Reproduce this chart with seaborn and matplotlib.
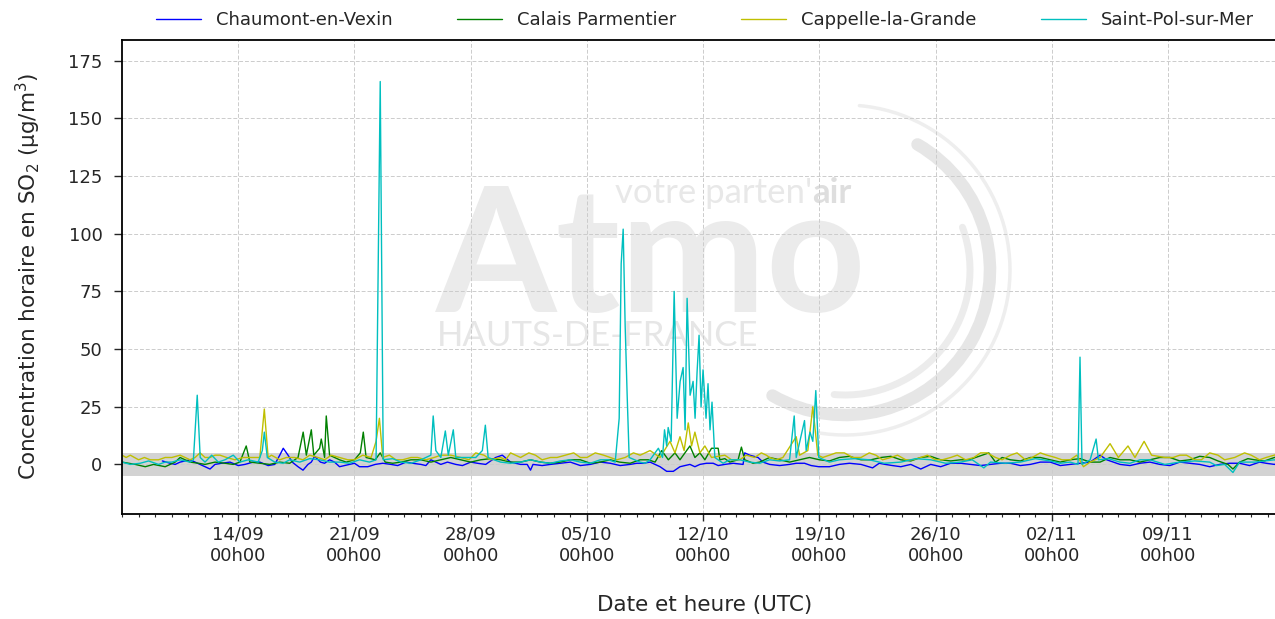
import numpy as np
import pandas as pd
import seaborn as sns
import matplotlib.pyplot as plt
import matplotlib.dates as mdates
from matplotlib.patches import Arc

START = pd.Timestamp('2023-09-07 00:00')

stations = ['Chaumont-en-Vexin', 'Calais Parmentier', 'Cappelle-la-Grande', 'Saint-Pol-sur-Mer']
colors = ['b', 'g', 'y', 'c']
tick_dates = ['2023-09-14', '2023-09-21', '2023-09-28', '2023-10-05', '2023-10-12',
              '2023-10-19', '2023-10-26', '2023-11-02', '2023-11-09']

# days since 07/09 00h00 (UTC), hourly SO2 in µg/m3
# (peaks + main shape)
chaumont_days = [2.43, 2.9, 3.5, 4.1, 4.7, 5.3, 5.6, 6.5, 7.4, 8.3, 9.2, 9.5, 9.71, 10.0, 10.25,
                 10.6, 10.9, 11.2, 11.4, 11.6, 11.95, 12.5, 13.1, 13.7, 14.3, 15.25, 16.2, 17.1,
                 18.0, 18.6, 19.2, 20.1, 21.0, 21.9, 22.5, 22.9, 23.4, 24.0, 24.4, 24.6, 24.75,
                 25.8, 27.0, 28.2, 29.4, 30.6, 31.4, 31.8, 32.4, 32.8, 33.2, 33.6, 34.2, 34.8,
                 35.6, 36.3, 37.4, 37.5, 37.8, 38.3, 38.6, 39.0, 40.2, 41.1, 41.96, 43.2, 44.5,
                 45.2, 45.96, 46.9, 47.5, 48.1, 48.7, 49.9, 51.1, 52.3, 53.5, 54.7, 55.9, 57.1,
                 58.3, 58.9, 59.3, 60.1, 61.3, 62.5, 63.7, 64.9, 66.1, 67.3, 68.5, 69.4, 70.2]
chaumont_vals = [1.5, 0.5, 1, 2, 0, -2, 0, 1, 0, 1, 0, 4, 7, 4, 1,
                 -1, -2.5, 0, 1, 3.5, 1, 2, -1, 0, -1, 0, 0, 1,
                 0, 2, 0, 0, 1, 0, 3, 4, 1, 0, 0, -2.5, 0,
                 0, 1, 0, 0.5, 0, 0.5, 1, -1, -3, -3, -1, 0, 0,
                 0.5, 0, 0, 5, 4, 3, 1, 0, 0, 0.5, -1, 0, 0,
                 -1.5, 0, -1, 0, -2, 0, 0.5, 0, 0, 0.5, 0, 1, 0,
                 1, 4, 2, 0, 0.5, 0, 1, 0, 0, 0.5, 1, 0, 0.5]
# (baseline wiggles in between)
chaumont_days2 = [3.2, 5.0, 6.0, 7.0, 7.9, 8.8, 12.2, 12.8, 13.4, 14.0, 14.8, 15.7, 16.6, 17.5,
                  18.3, 19.6, 20.5, 21.4, 23.7, 25.3, 26.4, 27.6, 28.8, 30.0, 31.0, 34.5, 35.2,
                  35.9, 36.8, 39.6, 40.6, 41.5, 42.6, 43.8, 45.6, 46.4, 49.3, 50.5, 51.7, 52.9,
                  54.1, 55.3, 56.5, 57.7, 59.7, 60.7, 61.9, 63.1, 64.3, 65.5, 66.7, 67.9, 68.9,
                  69.8]
chaumont_vals2 = [0, -1, 0.5, -0.5, 1, -0.5, 0.5, 1, -0.5, 0.5, -1, 0.5, -0.5, 0.5,
                  -0.5, 1, -0.5, 0.5, 0.5, -0.5, 0.5, -0.5, 1, -0.5, 0.5, -1, 0.5,
                  -0.5, 0.5, -0.5, 0.5, -0.5, -1, 0.5, 0.5, -0.5, -1, 0.5, -0.5, 0.5,
                  -0.5, 1, -0.5, 0.5, 1, -0.5, 1, -0.5, 0.5, -1, 0.5, -0.5, 0.5,
                  1]

calais_days = [0.0, 0.8, 1.4, 2.6, 3.2, 3.5, 4.1, 5.0, 6.2, 7.1, 7.48, 7.7, 8.9, 10.1, 10.6,
               10.91, 11.1, 11.4, 11.55, 11.9, 12.0, 12.2, 12.3, 12.5, 13.1, 14.0, 14.35, 14.53,
               14.7, 15.25, 15.55, 15.85, 16.8, 18.0, 19.2, 20.4, 21.6, 22.8, 24.0, 25.2, 26.4,
               27.6, 28.8, 29.96, 31.2, 32.1, 32.5, 32.9, 33.3, 33.6, 34.2, 34.5, 34.8, 35.1,
               35.5, 35.9, 36.0, 36.6, 37.1, 37.3, 37.5, 38.4, 39.6, 40.8, 42.0, 43.2, 44.5,
               45.7, 46.9, 48.1, 49.3, 50.5, 51.4, 52.2, 52.6, 53.5, 54.7, 55.9, 57.1, 58.3,
               59.5, 60.7, 61.9, 63.1, 64.3, 65.5, 66.6, 66.9, 67.3, 68.2, 69.4, 70.2]
calais_vals = [1, 0, -1, -1, 1, 3, 1, 0, 0.5, 1, 8, 1, 0, 0.5, 3,
               14, 4, 15, 4, 7, 11, 3, 21, 4, 2, 2, 5, 14,
               3, 2, 5, 1, 1, 2, 2, 2, 2, 2, 1, 1, 1,
               2, 1, 1, 2, 1, 6, 2, 5, 2, 8, 3, 5, 2,
               7, 7, 2, 1, 2, 7.5, 2, 1, 2, 2, 2, 3, 2,
               3, 2, 3, 2, 2, 3, 5, 1, 2, 3, 2, 2, 1,
               3, 2, 2, 3, 2, 3, 0, -2, 1, 2, 3, 2]
calais_days2 = [0.4, 1.9, 4.6, 5.6, 6.7, 8.3, 9.5, 13.5, 16.3, 17.4, 18.6, 19.8, 21.0, 22.2,
                23.4, 24.6, 25.8, 27.0, 28.2, 29.4, 30.6, 31.7, 36.3, 38.0, 39.0, 40.2, 41.4,
                42.6, 43.8, 45.1, 46.3, 47.5, 48.7, 49.9, 51.0, 53.0, 54.1, 55.3, 56.5, 57.7,
                58.9, 60.1, 61.3, 62.5, 63.7, 64.9, 66.0, 67.8, 68.8, 69.8]
calais_vals2 = [0.5, 0, 0.5, 1, 0, 0.5, 1, 1, 0.5, 2, 1, 3, 1, 2.5,
                1, 2, 0.5, 2, 0.5, 2, 0.5, 2, 2.5, 0.5, 3, 1, 3,
                1.5, 3.5, 2, 3.5, 1.5, 3.5, 1.5, 2, 3, 1.5, 3, 1, 2.5,
                1, 2, 1, 3, 1.5, 3.5, 1.5, 2.5, 1.5, 3.5]

cappelle_days = [0.0, 0.5, 1.0, 1.7, 2.6, 3.5, 4.1, 4.7, 5.3, 5.9, 6.8, 7.7, 8.3, 8.57, 8.8,
                 9.5, 10.4, 11.3, 12.2, 13.1, 14.0, 15.0, 15.3, 15.5, 15.7, 16.5, 17.4, 18.3,
                 19.2, 20.4, 21.3, 22.2, 22.8, 23.4, 24.0, 24.9, 25.8, 26.7, 27.6, 28.5, 29.4,
                 30.3, 31.2, 31.8, 32.4, 33.0, 33.3, 33.6, 33.85, 34.1, 34.3, 34.5, 34.8, 35.1,
                 35.5, 36.3, 37.2, 38.1, 38.5, 39.0, 39.8, 40.6, 40.8, 41.3, 41.6, 41.9, 42.6,
                 43.5, 44.5, 45.4, 46.3, 47.2, 48.1, 48.97, 49.9, 50.8, 51.7, 52.6, 53.5, 54.4,
                 55.3, 56.2, 57.1, 57.9, 58.3, 58.9, 59.5, 60.0, 60.58, 61.0, 61.55, 62.0, 62.8,
                 63.7, 64.6, 65.5, 66.4, 67.6, 68.5, 69.4, 70.2]
cappelle_vals = [4, 4, 2, 2, 3, 4, 2, 5, 3, 4, 2, 3, 3, 24, 3,
                 2, 3, 4, 2, 3, 2, 3, 10, 20, 3, 2, 3, 2,
                 4, 3, 5, 2, 3, 5, 3, 4, 3, 4, 3, 5, 3,
                 3, 4, 6, 3, 10, 5, 12, 6, 18, 8, 14, 5, 8,
                 3, 4, 2, 3, 5, 3, 3, 12, 4, 6, 25, 4, 4,
                 5, 3, 4, 3, 2, 3, 2, 3, 2, 5, 3, 4, 2,
                 5, 3, 2, -1, 1, 3, 9, 3, 8, 3, 10, 4, 3,
                 4, 2, 5, 2, 5, 2, 4, 3]
cappelle_days2 = [0.25, 1.35, 2.2, 3.0, 4.4, 5.0, 5.6, 6.3, 7.3, 9.0, 9.9, 10.9, 11.8, 12.6,
                  13.6, 14.5, 16.1, 16.9, 17.8, 18.8, 19.8, 20.9, 21.8, 23.1, 23.7, 24.5, 25.3,
                  26.2, 27.2, 28.0, 29.0, 29.8, 30.8, 36.7, 37.6, 38.8, 39.4, 42.2, 43.0, 44.0,
                  45.0, 45.8, 46.7, 47.6, 48.5, 49.4, 50.3, 51.3, 52.1, 53.0, 53.9, 54.8, 55.7,
                  56.6, 57.5, 63.3, 64.1, 65.0, 66.0, 67.0, 68.0, 68.9, 69.8]
cappelle_vals2 = [3, 3, 2, 3, 3, 3, 4, 3, 3, 4, 3, 2, 3, 4,
                  2, 4, 4, 2, 3, 3, 4, 2, 4, 2, 4, 5, 2,
                  3, 5, 3, 4, 2, 5, 2, 4, 4, 2, 3, 5, 3,
                  5, 2, 4, 2, 4, 2, 4, 3, 5, 2, 5, 3, 4,
                  2, 4, 3, 4, 2, 4, 3, 4, 3, 5]

saintpol_days = [0.0, 1.1, 2.6, 3.5, 4.1, 4.3, 4.53, 4.71, 5.0, 5.4, 5.8, 6.7, 7.1, 7.6, 8.2,
                 8.45, 8.57, 8.75, 9.2, 10.1, 10.7, 11.9, 13.1, 14.3, 15.3, 15.55, 15.73, 16.8,
                 18.0, 18.6, 18.74, 18.9, 19.2, 19.47, 19.65, 19.95, 20.1, 20.7, 21.3, 21.7,
                 21.88, 22.05, 22.8, 24.0, 25.2, 26.4, 27.6, 28.8, 29.7, 29.94, 30.06, 30.18,
                 30.3, 30.42, 30.54, 31.2, 31.8, 32.3, 32.55, 32.67, 32.8, 32.89, 33.07, 33.25,
                 33.43, 33.61, 33.79, 33.91, 34.03, 34.21, 34.39, 34.51, 34.63, 34.75, 34.87,
                 34.99, 35.17, 35.29, 35.41, 35.53, 35.7, 36.6, 37.8, 39.0, 40.2, 40.48, 40.6,
                 41.1, 41.2, 41.43, 41.6, 41.78, 41.96, 43.2, 45.0, 46.9, 48.7, 50.5, 51.9,
                 52.3, 54.1, 55.9, 57.1, 57.57, 57.69, 57.81, 58.3, 58.66, 58.8, 60.1, 61.9,
                 63.7, 65.5, 66.4, 66.9, 67.3, 69.4, 70.2]
saintpol_vals = [1, 0.5, 1, 2, 1, 2, 30, 3, 1, 4, 1, 4, 1, 2, 1,
                 6, 14, 3, 1, 2, 1, 2, 1, 2, 2, 166, 2, 1,
                 2, 4, 21, 6, 3, 14.5, 4, 15, 3, 3, 3, 6,
                 17, 3, 1, 1, 1, 1.5, 1, 2, 1, 20, 87, 102,
                 60, 30, 3, 1, 2, 7, 3, 15, 8, 16, 10, 75,
                 20, 36, 42, 15, 72, 30, 36, 20, 40, 56, 25,
                 41, 20, 35, 15, 27, 3, 2, 1, 2, 2, 21, 3,
                 19, 6, 14, 10, 32, 3, 2, 2, 1, 2, 1, -1.5,
                 1, 1, 1.5, 1, 0, 46.5, 0, 2, 11, 2, 1, 2,
                 1, 1, 0, -3.5, 1, 2, 1]
saintpol_days2 = [0.5, 1.6, 2.2, 3.0, 6.2, 9.7, 11.3, 12.5, 13.7, 14.9, 16.3, 17.4, 22.4, 23.4,
                  24.6, 25.8, 27.0, 28.2, 29.3, 31.5, 36.2, 37.2, 38.4, 39.6, 42.6, 44.1, 45.9,
                  47.8, 49.6, 51.2, 53.2, 55.0, 56.5, 59.4, 60.7, 61.3, 62.8, 64.6, 65.9, 68.2,
                  69.8]
saintpol_vals2 = [0, 1.5, 0, 1, 2, 0.5, 2.5, 1, 0.5, 1, 2.5, 0.5, 2, 0.5,
                  2, 0.5, 2, 0.5, 2, 0.5, 0.5, 2, 0.5, 1.5, 1, 2.5, 0.5,
                  2.5, 0.5, 2, 0.5, 2.5, 0.5, 2.5, 0.5, 2, 0, 1.5, -0.5, 1,
                  0.5]

series = {
    'Chaumont-en-Vexin': (chaumont_days + chaumont_days2, chaumont_vals + chaumont_vals2),
    'Calais Parmentier': (calais_days + calais_days2, calais_vals + calais_vals2),
    'Cappelle-la-Grande': (cappelle_days + cappelle_days2, cappelle_vals + cappelle_vals2),
    'Saint-Pol-sur-Mer': (saintpol_days + saintpol_days2, saintpol_vals + saintpol_vals2),
}

frames = []
for name in stations:
    d, v = series[name]
    frames.append(pd.DataFrame({'date': START + pd.to_timedelta(d, unit='D'),
                                'so2': v, 'station': name}))
df = pd.concat(frames, ignore_index=True).sort_values(['station', 'date'])

sns.set_style('ticks')
plt.rcParams['font.family'] = ['DejaVu Sans']

fig = plt.figure(figsize=(12.75, 6.19), dpi=100)
fig.patch.set_facecolor('white')

# watermark (drawn behind the chart)
wm = fig.add_axes([0, 0, 1, 1], zorder=-1)
wm.set_xlim(0, 1275)
wm.set_ylim(619, 0)
wm.axis('off')
wm.text(436, 312, 'Atmo', fontsize=125, fontweight='bold', family='Lato',
        color='#ebebeb', ha='left', va='baseline')
wm.text(812, 203, "votre parten'", fontsize=25, family='Lato',
        color='#e8e8e8', ha='right', va='baseline')
wm.text(812, 203, 'air', fontsize=25, fontweight='bold', family='Lato',
        color='#dedede', ha='left', va='baseline')
wm.text(437, 346, 'HAUTS-DE-FRANCE', fontsize=25, family='Lato',
        color='#e6e6e6', ha='left', va='baseline')
wm.add_patch(Arc((845, 270), 290, 290, theta1=-60, theta2=120, lw=9, color='#e6e6e6',
                 capstyle='round'))
wm.add_patch(Arc((845, 270), 250, 250, theta1=-20, theta2=95, lw=5, color='#ececec',
                 capstyle='round'))
wm.add_patch(Arc((845, 270), 330, 330, theta1=-85, theta2=100, lw=2.5, color='#eeeeee',
                 capstyle='round'))

ax = fig.add_axes([122 / 1275, 1 - 514 / 619, 1.01 - 122 / 1275, (514 - 40) / 619])
ax.set_facecolor('none')
ax.axhspan(-5, 5, color='lightgray', zorder=0, lw=0)

sns.lineplot(data=df, x='date', y='so2', hue='station', hue_order=stations,
             palette=dict(zip(stations, colors)), estimator=None, sort=True,
             lw=1.0, ax=ax)

ax.set_xlim(START, START + pd.Timedelta(days=70.2))
ax.set_ylim(-21.5, 184)
ax.set_yticks([0, 25, 50, 75, 100, 125, 150, 175])

ax.set_xticks(pd.to_datetime(tick_dates))
ax.xaxis.set_minor_locator(mdates.DayLocator())
ax.xaxis.set_major_formatter(mdates.DateFormatter('%d/%m\n%Hh%M'))

ax.grid(True, which='major', linestyle=(0, (4, 2)), color='#cccccc', lw=0.7)
ax.tick_params(axis='x', which='major', labelsize=13, length=5, width=1)
ax.tick_params(axis='y', which='major', labelsize=13, length=6, width=1, pad=8)
ax.tick_params(axis='x', which='minor', length=2.5, width=0.8)
for s in ax.spines.values():
    s.set_linewidth(1.3)
    s.set_color('black')

ax.set_xlabel('Date et heure (UTC)', fontsize=15.5, labelpad=22)
ax.set_ylabel('Concentration horaire en SO$_2$ (µg/m$^3$)', fontsize=15.5, labelpad=18)

ax.legend(loc='lower center', bbox_to_anchor=(0.5, 1.0), ncol=4, frameon=False,
          fontsize=13, columnspacing=3.6, handlelength=2.5, borderaxespad=0.2)

fig.savefig('out.png', dpi=100)
